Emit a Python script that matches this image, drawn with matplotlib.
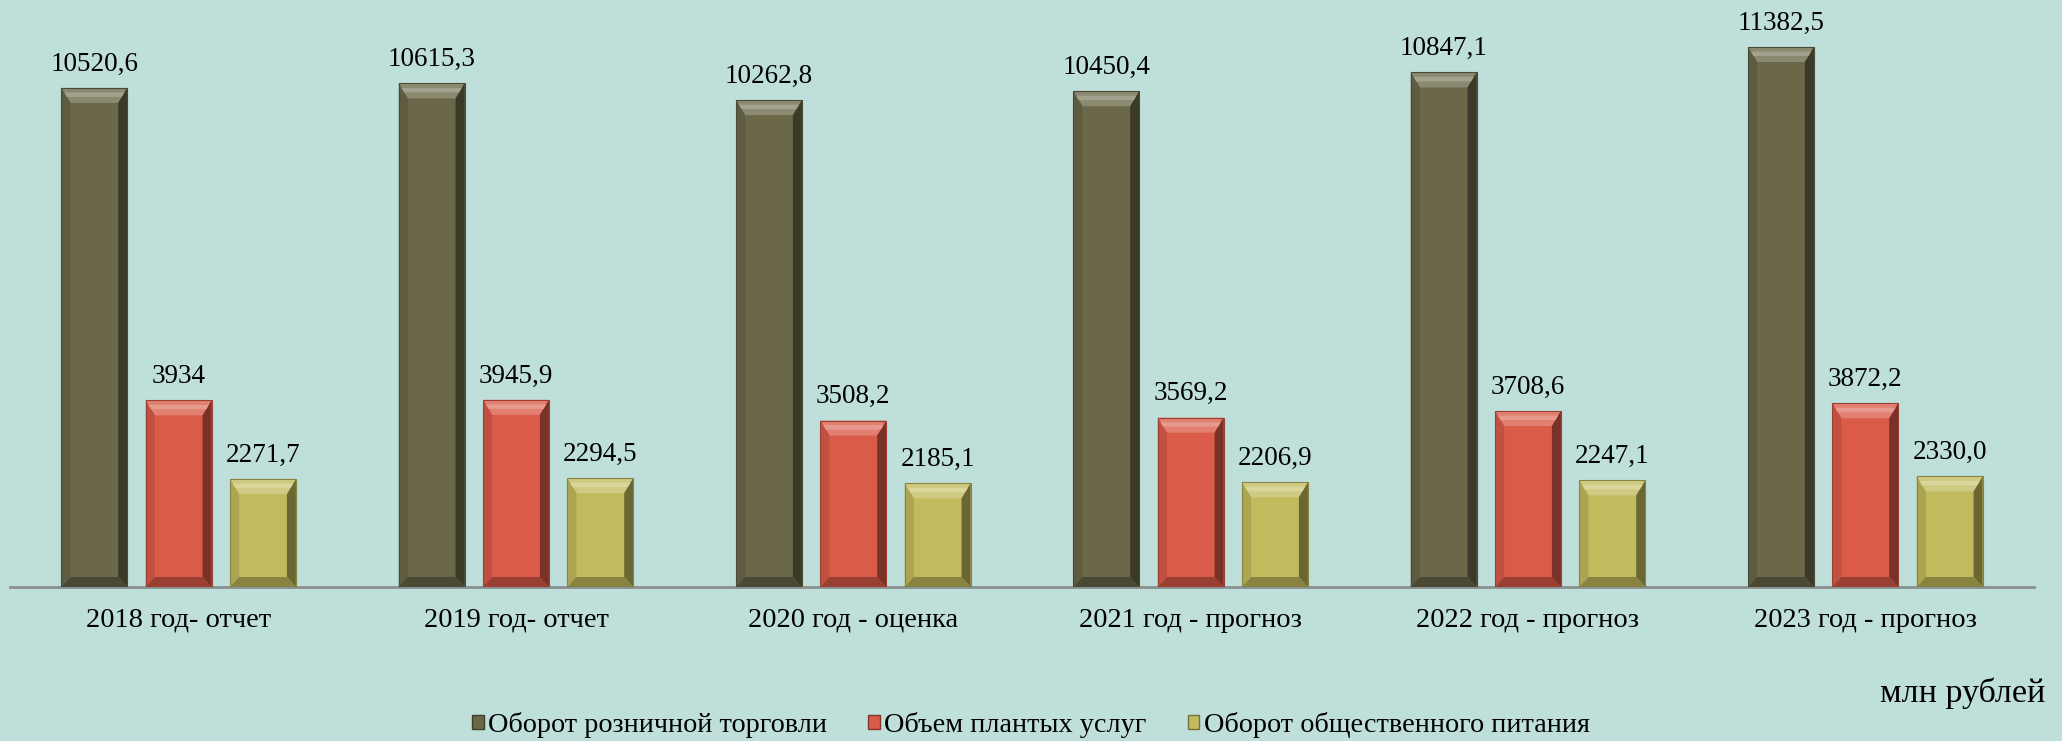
import matplotlib
matplotlib.use("Agg")
import matplotlib.pyplot as plt
import matplotlib.colors as mcolors
from matplotlib.patches import Polygon, Patch
import numpy as np

plt.rcParams['font.family'] = ['Liberation Serif', 'DejaVu Serif']

categories = ["2018 год- отчет", "2019 год- отчет", "2020 год - оценка",
              "2021 год - прогноз", "2022 год - прогноз", "2023 год - прогноз"]
retail = [10520.6, 10615.3, 10262.8, 10450.4, 10847.1, 11382.5]
services = [3934, 3945.9, 3508.2, 3569.2, 3708.6, 3872.2]
catering = [2271.7, 2294.5, 2185.1, 2206.9, 2247.1, 2330.0]
retail_lbl = ["10520,6", "10615,3", "10262,8", "10450,4", "10847,1", "11382,5"]
services_lbl = ["3934", "3945,9", "3508,2", "3569,2", "3708,6", "3872,2"]
catering_lbl = ["2271,7", "2294,5", "2185,1", "2206,9", "2247,1", "2330,0"]
series_names = ["Оборот розничной торговли", "Объем плантых услуг", "Оборот общественного питания"]
colors = ["#6b6849", "#da5b48", "#c2bb5d"]
unit_text = "млн рублей"

W, H = 2062, 741
bg = "#bfdfdb"
fig = plt.figure(figsize=(W / 100, H / 100), dpi=100, facecolor=bg)
ax = fig.add_axes([10 / W, (H - 587) / H, (2034 - 10) / W, 587 / H])
ax.set_facecolor('none')
ymax = 587 / 0.04744
ax.set_xlim(-0.5, 5.5)
ax.set_ylim(0, ymax)
for s in ['top', 'right', 'left']:
    ax.spines[s].set_visible(False)
ax.spines['bottom'].set_color('#8a8f8f')
ax.spines['bottom'].set_linewidth(2)
ax.set_yticks([])

x = np.arange(len(categories))
ax.set_xticks(x)
ax.set_xticklabels(categories, fontsize=20.5, color='black')
ax.tick_params(axis='x', length=0, pad=15)

px_x = (2034 - 10) / 6.0
px_y = 587 / ymax


def shade(c, f):
    r = np.array(mcolors.to_rgb(c))
    if f >= 0:
        r = r + (1 - r) * f
    else:
        r = r * (1 + f)
    return tuple(np.clip(r, 0, 1))


width = 0.195
offsets = [-0.25, 0.0, 0.25]
all_vals = [retail, services, catering]
all_lbls = [retail_lbl, services_lbl, catering_lbl]
for vals, lbls, off, col in zip(all_vals, all_lbls, offsets, colors):
    bars = ax.bar(x + off, vals, width, color=col, edgecolor='none', zorder=2)
    for b, lab in zip(bars, lbls):
        x0 = b.get_x()
        x1 = x0 + b.get_width()
        y0 = 0
        y1 = b.get_height()
        bx = 9 / px_x
        bt = 15 / px_y
        bb = 10 / px_y
        polys = [
            ([(x0, y1), (x1, y1), (x1 - bx, y1 - bt), (x0 + bx, y1 - bt)], shade(col, 0.22)),
            ([(x1, y1), (x1, y0), (x1 - bx, y0 + bb), (x1 - bx, y1 - bt)], shade(col, -0.45)),
            ([(x0, y1), (x0 + bx, y1 - bt), (x0 + bx, y0 + bb), (x0, y0)], shade(col, -0.12)),
            ([(x0, y0), (x0 + bx, y0 + bb), (x1 - bx, y0 + bb), (x1, y0)], shade(col, -0.3)),
        ]
        for pts, c in polys:
            ax.add_patch(Polygon(pts, closed=True, facecolor=c, edgecolor='none', zorder=3))
        # thin highlight line at top edge of bevel
        ax.add_patch(Polygon([(x0 + bx * 0.3, y1 - bt * 0.3), (x1 - bx * 0.3, y1 - bt * 0.3),
                              (x1 - bx * 0.6, y1 - bt * 0.6), (x0 + bx * 0.6, y1 - bt * 0.6)],
                             closed=True, facecolor=shade(col, 0.38), edgecolor='none', zorder=3))
        ax.add_patch(Polygon([(x0, y0), (x0, y1), (x1, y1), (x1, y0)], closed=True,
                             facecolor='none', edgecolor=shade(col, -0.3), lw=0.8, zorder=4))
        ax.annotate(lab, (b.get_x() + b.get_width() / 2, y1), xytext=(0, 12.5),
                    textcoords='offset points', ha='center', va='baseline',
                    fontsize=19.5, color='black')

handles = [Patch(facecolor=c, edgecolor=shade(c, -0.4), lw=1) for c in colors]
fig.legend(handles, series_names, loc='center', bbox_to_anchor=(0.5, 1 - 725 / H),
           ncol=3, frameon=False, fontsize=20.3, handlelength=0.42, handleheight=0.42,
           handletextpad=0.15, columnspacing=1.45, borderaxespad=0)

fig.text(2045 / W, 1 - 693 / H, unit_text, ha='right', va='center', fontsize=24.5, color='black')

fig.savefig("out.png", dpi=100, facecolor=bg)
